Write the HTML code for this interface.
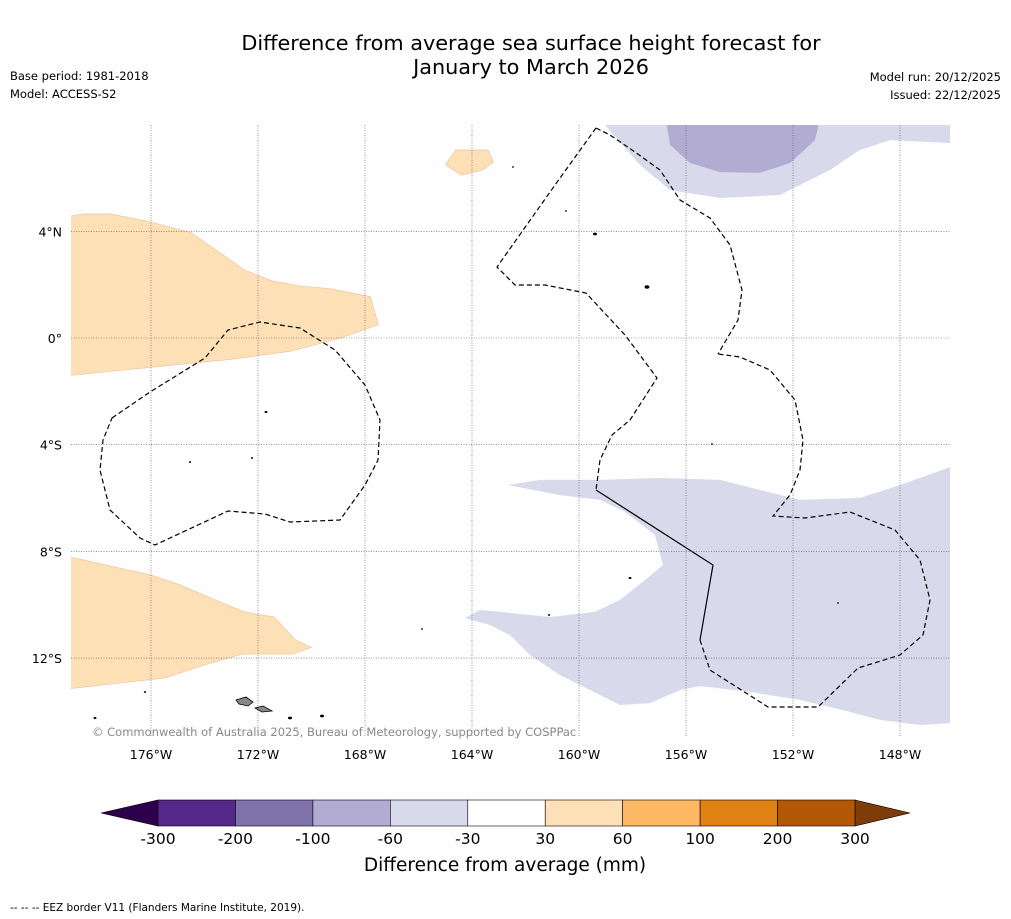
<!DOCTYPE html>
<html><head><meta charset="utf-8"><style>
body{margin:0;background:#fff;font-family:"DejaVu Sans",sans-serif;}
svg{display:block}
</style></head><body>
<svg id="chart" width="1011" height="919" font-family="DejaVu Sans, sans-serif">
<rect width="1011" height="919" fill="#fefefe"/>
<text x="531" y="50" font-size="20.8" text-anchor="middle">Difference from average sea surface height forecast for</text>
<text x="531" y="74" font-size="20.8" text-anchor="middle">January to March 2026</text>
<text x="10" y="80" font-size="11.5">Base period: 1981-2018</text>
<text x="10" y="98" font-size="11.5">Model: ACCESS-S2</text>
<text x="1001" y="81" font-size="11.5" text-anchor="end">Model run: 20/12/2025</text>
<text x="1001" y="99" font-size="11.5" text-anchor="end">Issued: 22/12/2025</text>
<defs><clipPath id="mapclip"><rect x="71" y="125" width="879" height="612"/></clipPath></defs>
<g id="map" clip-path="url(#mapclip)"></g>
<g id="axes"></g>
<text x="92" y="736" font-size="11.5" fill="#888">© Commonwealth of Australia 2025, Bureau of Meteorology, supported by COSPPac</text>
<g id="cbar"></g>
<text x="505" y="871" font-size="18.5" text-anchor="middle">Difference from average (mm)</text>
<text x="10" y="911" font-size="10.5">--  --  -- EEZ border V11 (Flanders Marine Institute, 2019).</text>
</svg>
<script>
const NS="http://www.w3.org/2000/svg";
const lonTicks=[-176,-172,-168,-164,-160,-156,-152,-148];
const lonLabels=["176°W","172°W","168°W","164°W","160°W","156°W","152°W","148°W"];
const latTicks=[4,0,-4,-8,-12];
const latLabels=["4°N","0°","4°S","8°S","12°S"];
const cbBounds=[-300,-200,-100,-60,-30,30,60,100,200,300];
const cbColors=["#542788","#8073ac","#b2abd2","#d8daeb","#ffffff","#fee0b6","#fdb863","#e08214","#b35806"];
const cbUnder="#2d004b", cbOver="#7f3b08";
const regionValues=[45,45,45,-45,-80,-45];
const regions=[
 [[-179.5,4.5],[-178.5,4.65],[-177.5,4.65],[-176,4.35],[-174.5,3.95],[-172.5,2.55],[-171.5,2.15],[-170.4,1.95],[-169.3,1.85],[-167.8,1.55],[-167.5,0.5],[-168.9,0],[-170.8,-0.5],[-173,-0.8],[-179.5,-1.45]],
 [[-179.5,-8.1],[-176,-8.89],[-174.9,-9.26],[-173.6,-9.82],[-172.5,-10.27],[-171.4,-10.46],[-170.6,-11.32],[-170,-11.6],[-170.7,-11.85],[-172.6,-11.85],[-174,-12.26],[-175.5,-12.75],[-179.5,-13.2]],
 [[-164.6,7.05],[-163.4,7.05],[-163.2,6.6],[-163.6,6.3],[-164.4,6.1],[-165,6.5]],
 [[-159.1,8.5],[-159.03,7.99],[-157.72,6.49],[-156.6,5.55],[-154.73,5.25],[-152.49,5.36],[-150.62,6.3],[-149.5,7.05],[-148.37,7.42],[-146.13,7.31],[-145.5,7.3],[-145.5,8.5]],
 [[-156.8,8.5],[-156.6,7.24],[-155.85,6.56],[-154.73,6.22],[-153.23,6.19],[-152.11,6.56],[-151.18,7.42],[-150.92,8.5]],
 [[-162.65,-5.51],[-161.46,-5.32],[-159.21,-5.32],[-156.97,-5.25],[-154.73,-5.32],[-153.23,-5.7],[-151.74,-6.07],[-149.5,-6.0],[-148,-5.51],[-146.13,-4.84],[-145.5,-4.6],[-145.5,-14.4],[-147.25,-14.51],[-148.75,-14.32],[-149.87,-14.02],[-151.74,-13.57],[-153.61,-13.27],[-155.48,-13.05],[-156.22,-13.2],[-157.35,-13.69],[-158.47,-13.76],[-159.59,-13.2],[-160.71,-12.64],[-161.83,-11.89],[-162.58,-11.14],[-163.33,-10.76],[-164.26,-10.5],[-163.7,-10.2],[-162.95,-10.27],[-161.08,-10.46],[-159.4,-10.27],[-158.47,-9.82],[-157.53,-9.07],[-156.86,-8.51],[-157.16,-7.39],[-158.28,-6.52],[-159.21,-6.07],[-160.71,-5.89]]
];
const X=lon=>151+(lon+176)*26.75;
const Y=lat=>338-lat*26.67;
function colorFor(v){for(let i=0;i<cbColors.length;i++){if(v>=cbBounds[i]&&v<cbBounds[i+1])return cbColors[i];}return v<cbBounds[0]?cbUnder:cbOver;}
const map=document.getElementById('map');
regions.forEach((r,i)=>{
 const p=document.createElementNS(NS,'polygon');
 p.setAttribute('points',r.map(q=>X(q[0])+','+Y(q[1])).join(' '));
 const c=colorFor(regionValues[i]);
 p.setAttribute('fill',c);
 if(c==="#fee0b6"){p.setAttribute('stroke','#e8c49a');p.setAttribute('stroke-width','0.6');}
 
 
 map.appendChild(p);
});
const eez=[
 "M112,418 L150,392 L205,358 L228,330 L260,322 L300,328 L335,350 L365,385 L380,420 L378,460 L365,485 L340,520 L290,522 L265,514 L228,511 L155,545 L140,538 L110,510 L100,470 L103,440 Z",
 "M596,128 L610,135 L635,152 L660,170 L680,200 L710,218 L730,245 L742,290 L738,320 L718,354",
 "M596,128 L555,185 L497,267 L515,285 L545,285 L586,293 L625,335 L657,378 L630,420 L612,435 L600,460 L596,490",
 "M700,640 L710,670 L768,707 L818,707 L858,668 L900,655 L923,635 L930,600 L920,560 L895,530 L850,512 L805,518 L773,516 L790,495 L800,470 L803,440 L795,400 L770,370 L740,357 L718,354"
];
eez.forEach(d=>{const p=document.createElementNS(NS,'path');p.setAttribute('d',d);p.setAttribute('fill','none');p.setAttribute('stroke','#000');p.setAttribute('stroke-width','1.2');p.setAttribute('stroke-dasharray','5,3');


map.appendChild(p);});
const solid=document.createElementNS(NS,'path');solid.setAttribute('d','M596,490 L713,565 L700,640');solid.setAttribute('fill','none');solid.setAttribute('stroke','#000');solid.setAttribute('stroke-width','1.2');


map.appendChild(solid);
const islands=[[595,234,2],[647,287,2.5],[266,412,1.5],[252,458,1.2],[630,578,1.5],[290,718,2],[322,716,2],[95,718,1.5],[145,692,1.2],[549,615,1.2],[838,603,1],[712,444,1],[190,462,1.2],[513,167,1],[566,211,1],[422,629,1]];
islands.forEach(d=>{const c=document.createElementNS(NS,'ellipse');c.setAttribute('cx',d[0]);c.setAttribute('cy',d[1]);c.setAttribute('rx',d[2]);c.setAttribute('ry',d[2]*0.7);c.setAttribute('fill','#000');


map.appendChild(c);});
[["M236,700 L246,697 L253,702 L248,706 L239,704 Z"],["M255,708 L263,706 L272,711 L262,712 Z"]].forEach(d=>{const p=document.createElementNS(NS,'path');p.setAttribute('d',d[0]);p.setAttribute('fill','#888');p.setAttribute('stroke','#000');p.setAttribute('stroke-width','0.8');


map.appendChild(p);});
const axes=document.getElementById('axes');
lonTicks.forEach((t,i)=>{const l=document.createElementNS(NS,'line');l.setAttribute('x1',X(t));l.setAttribute('x2',X(t));l.setAttribute('y1',125);l.setAttribute('y2',737);l.setAttribute('stroke','#555');l.setAttribute('stroke-width','0.6');l.setAttribute('stroke-dasharray','1,1.5');


axes.appendChild(l);
const tx=document.createElementNS(NS,'text');tx.setAttribute('x',X(t));tx.setAttribute('y',759);tx.setAttribute('font-size','12.5');tx.setAttribute('text-anchor','middle');tx.textContent=lonLabels[i];


axes.appendChild(tx);});
latTicks.forEach((t,i)=>{const l=document.createElementNS(NS,'line');l.setAttribute('x1',71);l.setAttribute('x2',950);l.setAttribute('y1',Y(t));l.setAttribute('y2',Y(t));l.setAttribute('stroke','#555');l.setAttribute('stroke-width','0.6');l.setAttribute('stroke-dasharray','1,1.5');


axes.appendChild(l);
const tx=document.createElementNS(NS,'text');tx.setAttribute('x',62);tx.setAttribute('y',Y(t)+5);tx.setAttribute('font-size','12.5');tx.setAttribute('text-anchor','end');tx.textContent=latLabels[i];


axes.appendChild(tx);});
const cb=document.getElementById('cbar');
const cx0=158,cx1=855,cy0=800,cy1=826,n=cbColors.length,w=(cx1-cx0)/n;
const under=document.createElementNS(NS,'polygon');under.setAttribute('points',`${cx0},${cy0} ${cx0},${cy1} 101,813`);under.setAttribute('fill',cbUnder);under.setAttribute('stroke','#000');under.setAttribute('stroke-width','0.6');


cb.appendChild(under);
const over=document.createElementNS(NS,'polygon');over.setAttribute('points',`${cx1},${cy0} ${cx1},${cy1} 910,813`);over.setAttribute('fill',cbOver);over.setAttribute('stroke','#000');over.setAttribute('stroke-width','0.6');


cb.appendChild(over);
cbColors.forEach((c,i)=>{const r=document.createElementNS(NS,'rect');r.setAttribute('x',cx0+i*w);r.setAttribute('y',cy0);r.setAttribute('width',w);r.setAttribute('height',cy1-cy0);r.setAttribute('fill',c);r.setAttribute('stroke','#000');r.setAttribute('stroke-width','0.6');


cb.appendChild(r);});
cbBounds.forEach((b,i)=>{const tx=document.createElementNS(NS,'text');tx.setAttribute('x',cx0+i*w);tx.setAttribute('y',844);tx.setAttribute('font-size','15.5');tx.setAttribute('text-anchor','middle');tx.textContent=b;


cb.appendChild(tx);});
</script>
</body></html>
